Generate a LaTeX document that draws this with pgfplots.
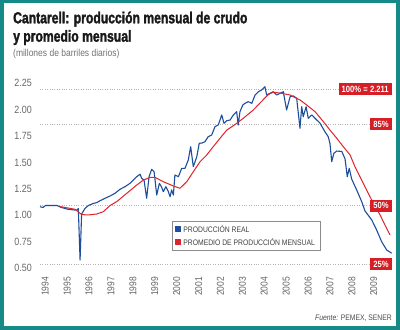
\documentclass[border=0pt]{standalone}
\usepackage{pgfplots}
\pgfplotsset{compat=1.18}
\usepackage{fontspec}
\setmainfont{Liberation Sans}
\newfontfamily\condfont[FakeStretch=0.85]{Liberation Sans}
\newfontfamily\titlefont[FakeStretch=0.76, FakeBold=1.8]{Liberation Sans Bold}
\definecolor{frameteal}{RGB}{22,138,134}
\definecolor{prodblue}{RGB}{28,78,156}
\definecolor{avgred}{RGB}{222,36,44}
\definecolor{boxred}{RGB}{214,30,38}
\begin{document}
\begin{tikzpicture}[x=1pt,y=1pt]
\useasboundingbox (0,0) rectangle (400,330);
\fill[frameteal] (0,0) rectangle (400,330);
\fill[white] (4,4) rectangle (396,327);
\node[anchor=base west,inner sep=0pt,text=black!90] at (13,306.7) {\titlefont\fontsize{16}{18}\selectfont Cantarell: producción mensual de crudo};
\node[anchor=base west,inner sep=0pt,text=black!90] at (13,288.3) {\titlefont\fontsize{16}{18}\selectfont y promedio mensual};
\node[anchor=base west,inner sep=0pt,text=black!55] at (13,273.5) {\condfont\fontsize{10}{12}\selectfont (millones de barriles diarios)};
\node[anchor=base east,inner sep=0pt,text=black!70] at (392,9.5) {\condfont\fontsize{8}{10}\selectfont\itshape Fuente:\upshape{} PEMEX, SENER};
\begin{axis}[
  at={(40pt,55.2pt)}, anchor=south west,
  scale only axis, width=352.6pt, height=195.2pt,
  xmin=1994, xmax=2010.1, ymin=0.45, ymax=2.3,
  clip=false,
  axis line style={draw=none}, tick style={draw=none},
  major tick length=0pt,
  ytick={0.5,0.75,1,1.25,1.5,1.75,2,2.25},
  /pgf/number format/assume math mode=true,
  yticklabel style={/pgf/number format/fixed, /pgf/number format/fixed zerofill, /pgf/number format/precision=2},
  yticklabel style={anchor=east, inner sep=0pt, xshift=-8pt, yshift=1.5pt, text=black!60, font=\condfont\fontsize{10.5}{12}\selectfont},
  xtick={1994.24,1995.24,1996.24,1997.24,1998.24,1999.24,2000.24,2001.24,2002.24,2003.24,2004.24,2005.24,2006.24,2007.24,2008.24,2009.24},
  xticklabels={1994,1995,1996,1997,1998,1999,2000,2001,2002,2003,2004,2005,2006,2007,2008,2009},
  xticklabel style={rotate=90, anchor=east, inner sep=2pt, text=black!60, font=\condfont\fontsize{10}{12}\selectfont},
  legend style={at={(axis cs:2000.03,0.96)}, anchor=north west, draw=black!45, fill=white,
    font=\condfont\fontsize{8}{9.5}\selectfont, text=black!75, inner xsep=3pt, inner ysep=2pt, row sep=0.5pt},
  legend cell align=left,
  legend image code/.code={\fill[#1] (0pt,-2.5pt) rectangle (5pt,2.5pt);},
]
\addplot[black!30, dotted, forget plot] coordinates {(1994,2.211) (2010.1,2.211)};
\addplot[black!30, dotted, forget plot] coordinates {(1994,1.879) (2010.1,1.879)};
\addplot[black!30, dotted, forget plot] coordinates {(1994,1.1055) (2010.1,1.1055)};
\addplot[black!30, dotted, forget plot] coordinates {(1994,0.553) (2010.1,0.553)};
\addplot[color=prodblue, line width=1.1pt, line join=round] coordinates {
(1994.00,1.095) (1994.14,1.088) (1994.25,1.107) (1994.78,1.107) (1994.98,1.088) (1995.28,1.071) (1995.67,1.062) (1995.75,1.078) (1995.83,0.590) (1995.90,1.026) (1996.05,1.078) (1996.21,1.107) (1996.43,1.126) (1996.60,1.135) (1996.74,1.152) (1996.97,1.175) (1997.20,1.197) (1997.42,1.222) (1997.65,1.260) (1997.88,1.285) (1998.11,1.317) (1998.26,1.348) (1998.42,1.380) (1998.57,1.403) (1998.64,1.365) (1998.75,1.348) (1998.87,1.175) (1998.98,1.380) (1999.10,1.450) (1999.21,1.427) (1999.33,1.206) (1999.45,1.317) (1999.55,1.282) (1999.63,1.238) (1999.75,1.285) (1999.86,1.238) (1999.94,1.190) (2000.01,1.254) (2000.09,1.206) (2000.16,1.396) (2000.32,1.380) (2000.47,1.459) (2000.62,1.459) (2000.77,1.538) (2000.88,1.664) (2001.00,1.475) (2001.16,1.569) (2001.27,1.696) (2001.40,1.699) (2001.53,1.711) (2001.68,1.759) (2001.84,1.775) (2001.99,1.854) (2002.14,1.870) (2002.30,1.965) (2002.40,1.886) (2002.53,1.911) (2002.68,1.917) (2002.83,1.965) (2002.98,1.996) (2003.05,1.870) (2003.13,1.996) (2003.26,2.059) (2003.36,2.075) (2003.51,2.091) (2003.67,2.075) (2003.82,2.154) (2003.97,2.185) (2004.12,2.202) (2004.27,2.233) (2004.35,2.154) (2004.50,2.170) (2004.65,2.185) (2004.81,2.154) (2004.96,2.170) (2005.11,2.185) (2005.26,2.012) (2005.42,2.138) (2005.57,2.145) (2005.72,2.123) (2005.87,1.839) (2005.95,2.043) (2006.02,1.948) (2006.15,2.043) (2006.25,1.933) (2006.41,1.965) (2006.56,1.933) (2006.79,1.886) (2007.01,1.806) (2007.16,1.759) (2007.24,1.696) (2007.32,1.522) (2007.42,1.602) (2007.55,1.623) (2007.78,1.619) (2007.93,1.548) (2008.03,1.380) (2008.12,1.459) (2008.23,1.358) (2008.46,1.254) (2008.69,1.143) (2008.84,1.055) (2009.15,0.969) (2009.37,0.875) (2009.60,0.764) (2009.83,0.685) (2010.06,0.654)
};
\addlegendentry{PRODUCCIÓN REAL}
\addplot[color=avgred, line width=1pt, line join=round] coordinates {
(1994.91,1.097) (1995.60,1.071) (1995.90,1.021) (1996.19,1.017) (1996.59,1.026) (1996.89,1.048) (1997.20,1.107) (1997.50,1.143) (1997.96,1.222) (1998.42,1.301) (1998.72,1.348) (1999.02,1.372) (1999.25,1.374) (1999.63,1.332) (2000.09,1.292) (2000.39,1.270) (2000.70,1.332) (2001.00,1.427) (2001.31,1.522) (2001.61,1.585) (2001.91,1.664) (2002.22,1.744) (2002.53,1.822) (2002.90,1.873) (2003.28,1.933) (2003.74,2.012) (2004.12,2.094) (2004.42,2.157) (2004.65,2.181) (2005.04,2.170) (2005.42,2.154) (2005.87,2.107) (2006.18,2.059) (2006.56,1.996) (2006.94,1.901) (2007.24,1.822) (2007.55,1.744) (2007.85,1.664) (2008.16,1.585) (2008.38,1.475) (2008.61,1.380) (2008.84,1.285) (2009.07,1.190) (2009.30,1.095) (2009.53,1.017) (2009.75,0.922) (2009.98,0.827)
};
\addlegendentry{PROMEDIO DE PRODUCCIÓN MENSUAL}
\begin{scope}[every node/.style={fill=boxred, text=white, font=\condfont\bfseries\fontsize{9}{10}\selectfont, inner xsep=3pt, inner ysep=0pt, minimum height=12pt, anchor=east}]
\node at (axis cs:2010.07,2.211) {100\% = 2.211};
\node at (axis cs:2010.07,1.879) {85\%};
\node at (axis cs:2010.07,1.1055) {50\%};
\node at (axis cs:2010.07,0.553) {25\%};
\end{scope}
\end{axis}
\end{tikzpicture}
\end{document}
